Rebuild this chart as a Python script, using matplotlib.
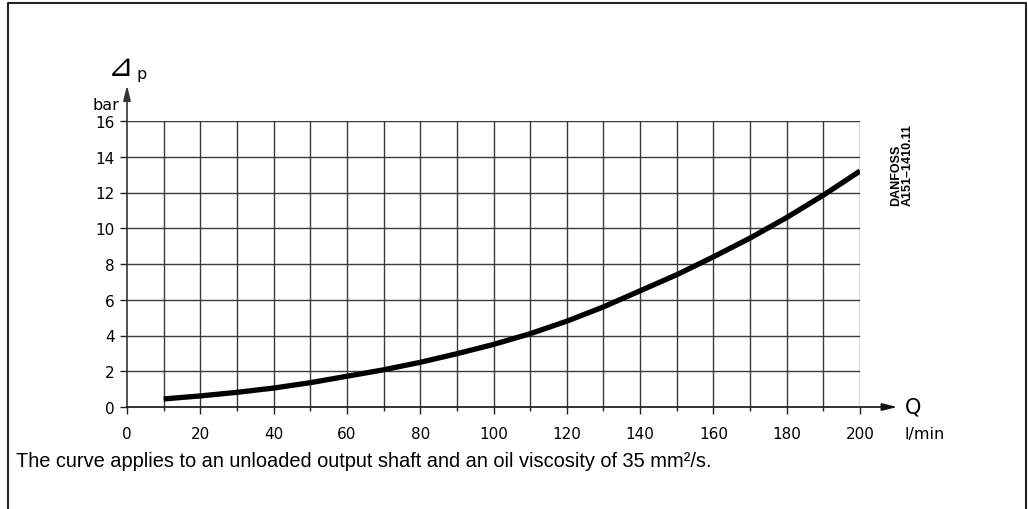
import matplotlib
matplotlib.use("Agg")
import matplotlib.pyplot as plt
from matplotlib.lines import Line2D

# Data
flow_lpm = [10, 20, 30, 40, 50, 60, 70, 80, 90, 100, 110, 120, 130, 140, 150, 160, 170, 180, 190, 200]
dp_bar = [0.45, 0.62, 0.82, 1.06, 1.36, 1.72, 2.08, 2.5, 2.98, 3.5, 4.1, 4.8, 5.6, 6.5, 7.4, 8.4, 9.45, 10.6, 11.85, 13.2]

x_ticks = [0, 20, 40, 60, 80, 100, 120, 140, 160, 180, 200]
y_ticks = [0, 2, 4, 6, 8, 10, 12, 14, 16]
x_grid = list(range(0, 201, 10))

W, H = 1028, 510
fig = plt.figure(figsize=(W / 100, H / 100), dpi=100)

def px(x, y):
    return (x / W, 1 - y / H)

ax = fig.add_axes([127 / W, 1 - 408 / H, (860 - 127) / W, (408 - 122) / H])
ax.set_xlim(0, 200)
ax.set_ylim(0, 16)
for s in ax.spines.values():
    s.set_visible(False)

grid_col = "#3a3a3a"
for xv in x_grid:
    if xv > 0:
        ax.plot([xv, xv], [0, 16], color=grid_col, lw=1.0, zorder=1)
for yv in y_ticks:
    if yv > 0:
        ax.plot([0, 200], [yv, yv], color=grid_col, lw=1.0, zorder=1)

ax.set_xticks(x_ticks)
ax.set_xticks(x_grid, minor=True)
ax.set_yticks(y_ticks)
ax.tick_params(axis="both", which="major", length=5, width=1.0, color="#222222",
               labelsize=11, pad=9)
ax.tick_params(axis="x", which="minor", length=3, width=1.0, color="#222222")
ax.tick_params(axis="y", which="major", pad=4)

# Axis arrows
arrow_style = "-|>,head_length=0.9,head_width=0.22"
ax.annotate("", xy=(0, 18.0), xytext=(0, 0), annotation_clip=False,
            arrowprops=dict(arrowstyle=arrow_style, color="#333333", lw=1.2,
                            mutation_scale=10, shrinkA=0, shrinkB=0))
ax.annotate("", xy=(210.2, 0), xytext=(0, 0), annotation_clip=False,
            arrowprops=dict(arrowstyle=arrow_style, color="#111111", lw=1.2,
                            mutation_scale=10, shrinkA=0, shrinkB=0))

# Curve
ax.plot(flow_lpm, dp_bar, color="black", lw=3.8, solid_capstyle="butt", zorder=3)

# Axis labels
fig.text(*px(119, 106), "bar", ha="right", va="center", fontsize=11.5)
fig.text(*px(120, 68), "⊿", ha="center", va="center", fontsize=22)
fig.text(*px(142, 74), "p", ha="center", va="center", fontsize=11.5)
fig.text(*px(905, 408), "Q", ha="left", va="center", fontsize=15)
fig.text(*px(925, 435), "l/min", ha="center", va="center", fontsize=11.5)

# Drawing number
fig.text(*px(896, 206), "DANFOSS", rotation=90, ha="center", va="bottom",
         fontsize=9, family="Liberation Sans", fontweight="bold")
fig.text(*px(908, 206), "A151\u20131410.11", rotation=90, ha="center", va="bottom",
         fontsize=9, family="Liberation Sans", fontweight="bold")

# Caption
fig.text(*px(16, 462), "The curve applies to an unloaded output shaft and an oil viscosity of 35 mm\u00b2/s.",
         ha="left", va="center", fontsize=14.4, family="Liberation Sans")

# Frame (open at bottom)
fig.add_artist(Line2D([8 / W, 8 / W, 1026 / W, 1026 / W],
                      [0, 1 - 4 / H, 1 - 4 / H, 0],
                      transform=fig.transFigure, color="#222222", lw=1.5))

fig.savefig("out.png", dpi=100)
